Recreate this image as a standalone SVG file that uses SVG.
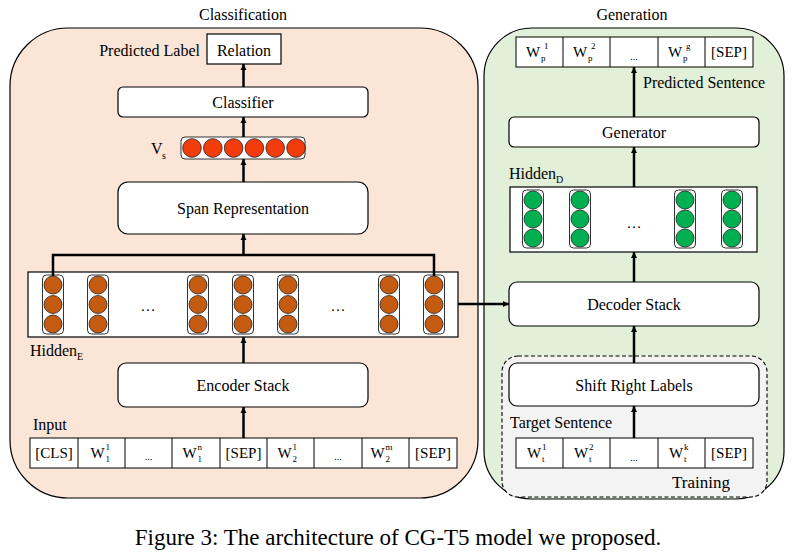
<svg xmlns="http://www.w3.org/2000/svg" width="797" height="552" viewBox="0 0 797 552">
<defs>
<style>
text{font-family:"Liberation Serif","Times New Roman",serif;fill:#000}
.t16{font-size:16px}
.t15{font-size:15px}
.c{text-anchor:middle}
.box{fill:#fff;stroke:#000;stroke-width:1.2}
.cell{fill:#fff;stroke:#000;stroke-width:1}
.col{fill:none;stroke:#333;stroke-width:1}
.orange{fill:#c55a11;stroke:#222;stroke-width:0.8}
.red{fill:#f23c0c;stroke:#222;stroke-width:0.8}
.green{fill:#00b050;stroke:#222;stroke-width:0.8}
.ln{fill:none;stroke:#000;stroke-width:2.5}
.sm{font-size:10px}
.ss{font-size:9px}
</style>
<marker id="ah" viewBox="0 0 10 10" refX="10" refY="5" markerWidth="6" markerHeight="7" markerUnits="userSpaceOnUse" orient="auto">
<path d="M0,0 L10,5 L0,10 z" fill="#000"/>
</marker>
<g id="colO">
<rect x="-10.5" y="0" width="21" height="59" rx="4" class="col"/>
<circle cx="0" cy="10" r="9" class="orange"/>
<circle cx="0" cy="29.5" r="9" class="orange"/>
<circle cx="0" cy="49" r="9" class="orange"/>
</g>
<g id="colG">
<rect x="-10.5" y="0" width="21" height="58" rx="4" class="col"/>
<circle cx="0" cy="10" r="9" class="green"/>
<circle cx="0" cy="29" r="9" class="green"/>
<circle cx="0" cy="48" r="9" class="green"/>
</g>
</defs>
<rect width="797" height="552" fill="#fff"/>

<!-- panels -->
<g id="classification-panel">
<rect x="10" y="28" width="468" height="470" rx="58" fill="#fbe5d6" stroke="#000" stroke-width="1.2"/>
<text x="243" y="20" class="t16 c">Classification</text>
</g>
<g id="generation-panel">
<rect x="484" y="28" width="300" height="471" rx="48" fill="#e2f0d9" stroke="#000" stroke-width="1.2"/>
<text x="632" y="20" class="t16 c">Generation</text>
</g>
<g id="training">
<rect x="502" y="356" width="265" height="141" rx="16" fill="#f3f3f3" stroke="#000" stroke-width="1.1" stroke-dasharray="4,2.5"/>
<text x="672" y="488" style="font-size:17px">Training</text>
</g>

<!-- left nodes -->
<g id="relation">
<rect x="207" y="34" width="74" height="30" class="box"/>
<text x="244" y="56" class="t16 c">Relation</text>
<text x="200" y="56" class="t16" text-anchor="end">Predicted Label</text>
</g>
<g id="classifier">
<rect x="118" y="87" width="250" height="30" rx="5" class="box"/>
<text x="243" y="108" class="t16 c">Classifier</text>
</g>
<g id="vs">
<text x="151" y="154" class="t16">V</text><text x="162" y="159" class="sm">s</text>
<rect x="181" y="137" width="124" height="22" rx="4" fill="#fff" stroke="#333" stroke-width="1"/>
<circle cx="192" cy="148" r="9.3" class="red"/>
<circle cx="212.8" cy="148" r="9.3" class="red"/>
<circle cx="233.6" cy="148" r="9.3" class="red"/>
<circle cx="254.4" cy="148" r="9.3" class="red"/>
<circle cx="275.2" cy="148" r="9.3" class="red"/>
<circle cx="296" cy="148" r="9.3" class="red"/>
</g>
<g id="span-representation">
<rect x="118" y="182" width="250" height="52" rx="10" class="box"/>
<text x="243" y="214" class="t16 c">Span Representation</text>
</g>
<g id="hidden-e">
<rect x="28" y="272" width="430" height="65" class="box" stroke-width="1"/>
<use href="#colO" x="53" y="275"/>
<use href="#colO" x="98" y="275"/>
<use href="#colO" x="198" y="275"/>
<use href="#colO" x="243" y="275"/>
<use href="#colO" x="288" y="275"/>
<use href="#colO" x="389" y="275"/>
<use href="#colO" x="434" y="275"/>
<text x="148" y="311" class="t15 c">…</text>
<text x="338" y="311" class="t15 c">…</text>
<text x="30" y="356" class="t16">Hidden</text><text x="77" y="360" class="sm">E</text>
</g>
<g id="encoder-stack">
<rect x="118" y="363" width="250" height="44" rx="8" class="box"/>
<text x="243" y="391" class="t16 c">Encoder Stack</text>
</g>
<g id="input">
<text x="33" y="430" class="t16">Input</text>
<rect x="30" y="438" width="427" height="30" class="cell"/>
<path d="M78,438V468M125,438V468M172,438V468M220,438V468M267,438V468M314,438V468M362,438V468M409,438V468" stroke="#000" stroke-width="1"/>
<text x="54" y="458" class="t15 c">[CLS]</text>
<text x="90.5" y="458" class="t15">W</text><text x="105.5" y="450" class="ss">1</text><text x="105.5" y="462" class="ss">1</text>
<text x="148.5" y="460" class="sm c">...</text>
<text x="182.5" y="458" class="t15">W</text><text x="197.5" y="450" class="ss">n</text><text x="197.5" y="462" class="ss">1</text>
<text x="243.5" y="458" class="t15 c">[SEP]</text>
<text x="277.5" y="458" class="t15">W</text><text x="292.5" y="450" class="ss">1</text><text x="292.5" y="462" class="ss">2</text>
<text x="338" y="460" class="sm c">...</text>
<text x="370.5" y="458" class="t15">W</text><text x="385.5" y="450" class="ss">m</text><text x="385.5" y="462" class="ss">2</text>
<text x="433" y="458" class="t15 c">[SEP]</text>
</g>

<!-- right nodes -->
<g id="predicted-sentence">
<rect x="516" y="37" width="237" height="30" class="cell"/>
<path d="M563,37V67M610,37V67M658,37V67M705,37V67" stroke="#000" stroke-width="1"/>
<text x="526" y="57" class="t15">W</text><text x="544" y="49" class="ss">1</text><text x="541" y="61" class="ss">p</text>
<text x="573" y="57" class="t15">W</text><text x="591" y="49" class="ss">2</text><text x="588" y="61" class="ss">p</text>
<text x="668" y="57" class="t15">W</text><text x="686" y="49" class="ss">g</text><text x="683" y="61" class="ss">p</text>
<text x="634" y="60" class="sm c">...</text>
<text x="729" y="57" class="t15 c">[SEP]</text>
<text x="643" y="88" class="t16">Predicted Sentence</text>
</g>
<g id="generator">
<rect x="509" y="117" width="250" height="30" rx="5" class="box"/>
<text x="634" y="138" class="t16 c">Generator</text>
</g>
<g id="hidden-d">
<text x="509" y="179" class="t16">Hidden</text><text x="556" y="183" class="sm">D</text>
<rect x="510" y="187" width="247" height="65" class="box" stroke-width="1"/>
<use href="#colG" x="533" y="190"/>
<use href="#colG" x="580" y="190"/>
<use href="#colG" x="685" y="190"/>
<use href="#colG" x="732" y="190"/>
<text x="634" y="228" class="t15 c">…</text>
</g>
<g id="decoder-stack">
<rect x="509" y="282" width="250" height="44" rx="8" class="box"/>
<text x="634" y="310" class="t16 c">Decoder Stack</text>
</g>
<g id="shift-right-labels">
<rect x="509" y="363" width="250" height="43" rx="8" class="box"/>
<text x="634" y="391" class="t16 c">Shift Right Labels</text>
</g>
<g id="target-sentence">
<text x="510" y="428" class="t16">Target Sentence</text>
<rect x="516" y="438" width="237" height="30" class="cell"/>
<path d="M563,438V468M610,438V468M658,438V468M705,438V468" stroke="#000" stroke-width="1"/>
<text x="527" y="458" class="t15">W</text><text x="542" y="450" class="ss">1</text><text x="542" y="462" class="ss">t</text>
<text x="574" y="458" class="t15">W</text><text x="589" y="450" class="ss">2</text><text x="589" y="462" class="ss">t</text>
<text x="634" y="461" class="sm c">...</text>
<text x="669" y="458" class="t15">W</text><text x="684" y="450" class="ss">k</text><text x="684" y="462" class="ss">t</text>
<text x="729" y="458" class="t15 c">[SEP]</text>
</g>

<!-- connectors -->
<g id="connectors">
<line x1="243.5" y1="87" x2="243.5" y2="64" class="ln" marker-end="url(#ah)"/>
<line x1="243.5" y1="137" x2="243.5" y2="117" class="ln" marker-end="url(#ah)"/>
<line x1="243.5" y1="182" x2="243.5" y2="159" class="ln" marker-end="url(#ah)"/>
<path d="M53,276V255H434V276" class="ln"/>
<line x1="243.5" y1="255" x2="243.5" y2="234" class="ln" marker-end="url(#ah)"/>
<line x1="243.5" y1="363" x2="243.5" y2="337" class="ln" marker-end="url(#ah)"/>
<line x1="243.5" y1="438" x2="243.5" y2="407" class="ln" marker-end="url(#ah)"/>
<line x1="458" y1="304" x2="509" y2="304" class="ln" marker-end="url(#ah)"/>
<line x1="634" y1="117" x2="634" y2="67" class="ln" marker-end="url(#ah)"/>
<line x1="634" y1="187" x2="634" y2="147" class="ln" marker-end="url(#ah)"/>
<line x1="634" y1="282" x2="634" y2="252" class="ln" marker-end="url(#ah)"/>
<line x1="634" y1="363" x2="634" y2="326" class="ln" marker-end="url(#ah)"/>
<line x1="634" y1="438" x2="634" y2="406" class="ln" marker-end="url(#ah)"/>
</g>

<text x="398" y="545" class="c" style="font-size:23px">Figure 3: The architecture of CG-T5 model we proposed.</text>
</svg>
